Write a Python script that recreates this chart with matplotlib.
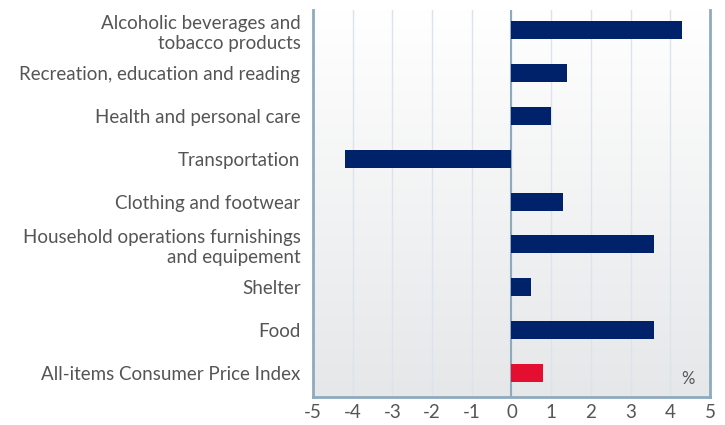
import numpy as np
import matplotlib.pyplot as plt

# Data (bottom to top)
categories = [
    "All-items Consumer Price Index",
    "Food",
    "Shelter",
    "Household operations furnishings\nand equipement",
    "Clothing and footwear",
    "Transportation",
    "Health and personal care",
    "Recreation, education and reading",
    "Alcoholic beverages and\ntobacco products",
]
values = [0.8, 3.6, 0.5, 3.6, 1.3, -4.2, 1.0, 1.4, 4.3]
x_ticks = [-5, -4, -3, -2, -1, 0, 1, 2, 3, 4, 5]
x_tick_labels = ["-5", "-4", "-3", "-2", "-1", "0", "1", "2", "3", "4", "5"]

navy = "#00226a"
red = "#e40f30"
spine_col = "#8eaabf"
grid_col = "#dbe4ec"
text_col = "#555555"

plt.rcParams['font.family'] = ['Lato', 'DejaVu Sans']

fig = plt.figure(figsize=(7.25, 4.25), dpi=100)
ax = fig.add_axes([0.4317, 0.066, 0.5476, 0.910])

# gradient background
grad = np.linspace(0, 1, 256).reshape(-1, 1)
ax.imshow(grad, extent=[-5, 5, -0.56, 8.47], aspect='auto', zorder=0,
          cmap=plt.matplotlib.colors.LinearSegmentedColormap.from_list(
              "bg", ["#e6e7e9", "#ffffff"]), origin='lower')

colors = [red] + [navy] * (len(values) - 1)
y = np.arange(len(categories))
ax.barh(y, values, height=0.42, color=colors, zorder=3)

for xt in x_ticks[1:-1]:
    ax.axvline(xt, color=grid_col, lw=1, zorder=1)
ax.axvline(0, color=spine_col, lw=1.5, zorder=2)

ax.set_xlim(-5, 5)
ax.set_ylim(-0.56, 8.47)
ax.set_xticks(x_ticks)
ax.set_xticklabels(x_tick_labels)
ax.set_yticks(y)
ax.set_yticklabels(categories, linespacing=1.2)
ax.tick_params(axis='both', length=0, labelsize=13.5, colors=text_col)
ax.tick_params(axis='y', pad=9)
ax.tick_params(axis='x', pad=5)

for side in ['left', 'right', 'bottom']:
    ax.spines[side].set_color(spine_col)
    ax.spines[side].set_linewidth(2)
ax.spines['top'].set_visible(False)

ax.text(4.45, -0.15, "%", color=text_col, fontsize=12, ha='center', va='center')

fig.savefig("out.png", dpi=100)
